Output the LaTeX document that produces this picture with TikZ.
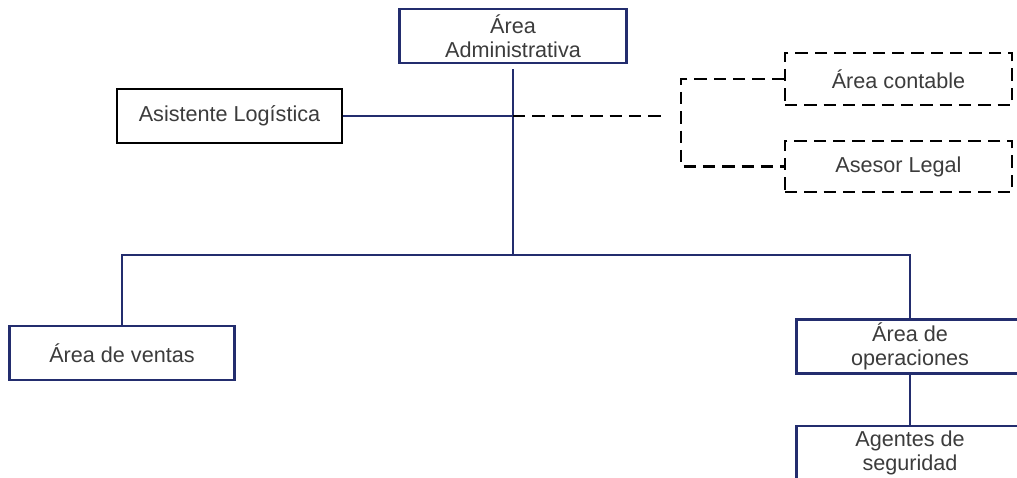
\documentclass[tikz,border=0pt]{standalone}
\usepackage{fontspec}
\setmainfont{Liberation Sans}
\usepackage{xcolor}
\usepackage{tikz}
\usetikzlibrary{positioning}
\definecolor{linea}{RGB}{35,45,110}
\definecolor{texto}{RGB}{60,60,60}
\tikzstyle{area} = [draw=linea, line width=1.3pt, fill=white, text=texto, align=center, minimum height=1.08cm, inner sep=1pt, font=\fontsize{12.3}{13.8}\selectfont]
\tikzstyle{apoyo} = [area, draw=black, dashed, dash pattern=on 7pt off 4pt]
\tikzstyle{enlace} = [draw=linea, line width=1.2pt]

\begin{document}
\begin{tikzpicture}[x=0.02cm,y=-0.02cm]
    \clip (0,0) rectangle (1017,477);
    \fill[white] (0,0) rectangle (1017,477);
    % jerarquia principal
    \node[area, minimum width=4.54cm] (admin) at (513,36) {Área\\Administrativa};
    \node[area, draw=black, minimum width=4.5cm] (asist) at (229.5,116) {Asistente Logística};
    \node[area, minimum width=4.5cm] (ventas) at (122,353) {Área de ventas};
    \node[area, minimum width=4.54cm] (oper) at (910,346.5) {Área de\\operaciones};
    \node[area, minimum width=4.54cm] (agentes) at (910,453) {Agentes de\\seguridad};
    % asesoria externa
    \node[apoyo, minimum width=4.54cm, minimum height=1.04cm] (contable) at (898.5,79) {Área contable};
    \node[apoyo, minimum width=4.54cm, minimum height=1.02cm] (legal) at (898.5,166.5) {Asesor Legal};
    \coordinate (cruce) at (513,116);
    \coordinate (tronco) at (513,255);
    \coordinate (finpunteo) at (662,116);
        \draw[enlace] (admin.south) ++(0,5) -- (tronco);
        \draw[enlace] (asist.east) -- (cruce);
        \draw[enlace] (ventas.north) |- (tronco) -| (oper.north);
        \draw[enlace] (oper.south) -- (agentes.north);
        \draw[black, line width=1.3pt, dash pattern=on 7pt off 4pt] (cruce) -- (finpunteo);
        \draw[black, line width=1.3pt, dash pattern=on 7pt off 4pt] (contable.west) -- ++(-103,0) |- (legal.west);
    \end{tikzpicture}
\end{document}
